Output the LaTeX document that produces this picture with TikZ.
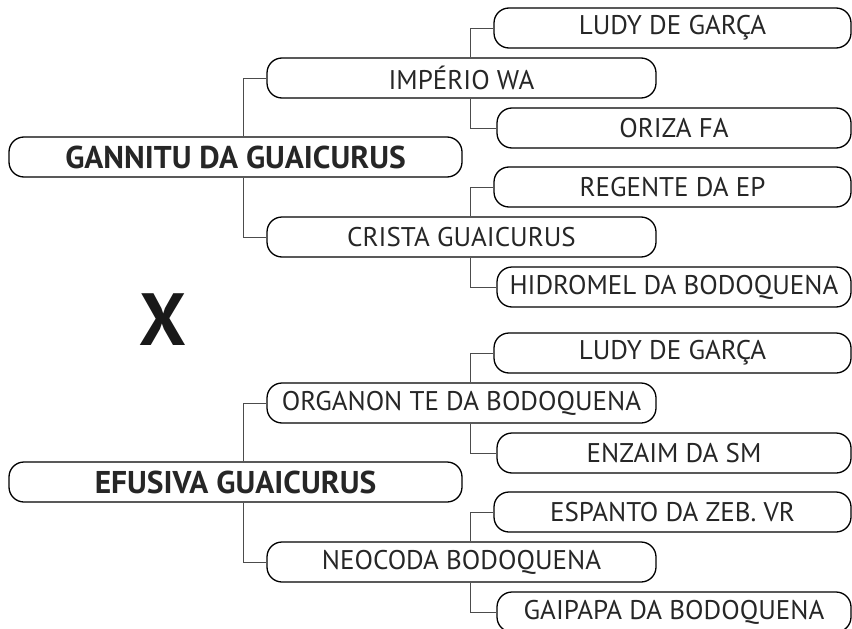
\documentclass[tikz,border=0pt]{standalone}
\usepackage{fontspec}
\setmainfont{PT Sans}
\begin{document}
\begin{tikzpicture}[x=1pt,y=-1pt,
  box/.style={draw=black, line width=1.3pt, rounded corners=15pt, minimum height=40pt, inner sep=0pt, text=black!85, font=\fontsize{27}{27}\selectfont},
  rootbox/.style={box, font=\fontsize{31.5}{31.5}\selectfont\bfseries, minimum width=453pt},
  midbox/.style={box, minimum width=389pt},
  upleaf/.style={box, minimum width=357pt},
  lowleaf/.style={box, minimum width=354pt},
  link/.style={draw=black!70, line width=0.9pt}]
\useasboundingbox (0,0) rectangle (852,629);
% first tree
\node[rootbox] (r1) at (235.5,157) {GANNITU DA GUAICURUS};
\node[midbox] (a1) at (461.5,78) {IMPÉRIO WA};
\node[midbox] (a2) at (461.5,237) {CRISTA GUAICURUS};
\node[upleaf] (a11) at (672.5,28) {LUDY DE GARÇA};
\node[lowleaf] (a12) at (674,128) {ORIZA FA};
\node[upleaf] (a21) at (672.5,187) {REGENTE DA EP};
\node[lowleaf] (a22) at (674,287) {HIDROMEL DA BODOQUENA};
% X
\node[font=\fontsize{74}{74}\selectfont\bfseries, text=black!90, inner sep=0pt] (x) at (163,320) {X};
% second tree
\node[rootbox] (r2) at (235.5,482) {EFUSIVA GUAICURUS};
\node[midbox] (b1) at (461.5,403) {ORGANON TE DA BODOQUENA};
\node[midbox] (b2) at (461.5,562) {NEOCODA BODOQUENA};
\node[upleaf] (b11) at (672.5,353) {LUDY DE GARÇA};
\node[lowleaf] (b12) at (674,453) {ENZAIM DA SM};
\node[upleaf] (b21) at (672.5,512) {ESPANTO DA ZEB. VR};
\node[lowleaf] (b22) at (674,612) {GAIPAPA DA BODOQUENA};
% connectors
\draw[link] ([xshift=7.5pt]r1.north) |- (a1.west);
\draw[link] ([xshift=7.5pt]r1.south) |- (a2.west);
\draw[link] ([xshift=8.5pt]a1.north) |- (a11.west);
\draw[link] ([xshift=8.5pt]a1.south) |- (a12.west);
\draw[link] ([xshift=8.5pt]a2.north) |- (a21.west);
\draw[link] ([xshift=8.5pt]a2.south) |- (a22.west);
\draw[link] ([xshift=7.5pt]r2.north) |- (b1.west);
\draw[link] ([xshift=7.5pt]r2.south) |- (b2.west);
\draw[link] ([xshift=8.5pt]b1.north) |- (b11.west);
\draw[link] ([xshift=8.5pt]b1.south) |- (b12.west);
\draw[link] ([xshift=8.5pt]b2.north) |- (b21.west);
\draw[link] ([xshift=8.5pt]b2.south) |- (b22.west);
\end{tikzpicture}
\end{document}
